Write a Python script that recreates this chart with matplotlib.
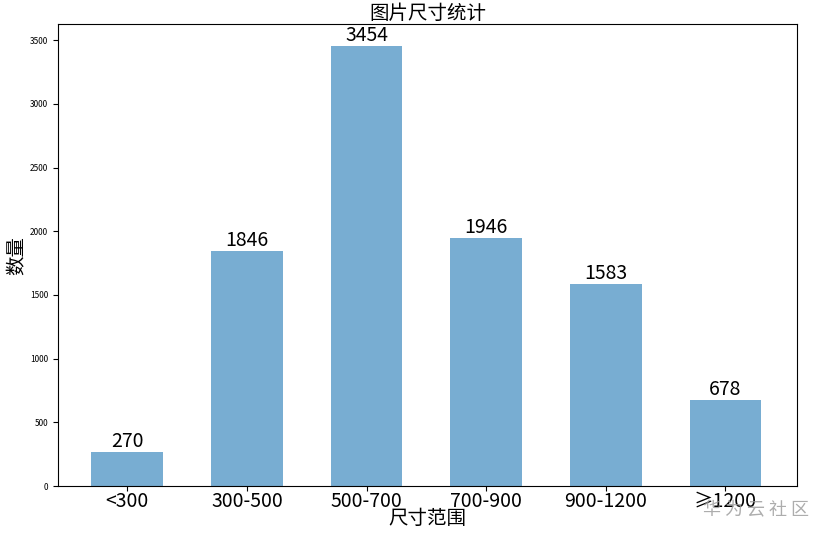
import matplotlib
matplotlib.use("Agg")
import matplotlib.pyplot as plt
import numpy as np

plt.rcParams['font.family'] = ['Noto Sans CJK SC', 'DejaVu Sans']
plt.rcParams['axes.unicode_minus'] = False

# 数据
labels = ['<300', '300-500', '500-700', '700-900', '900-1200', '≥1200']
counts = [270, 1846, 3454, 1946, 1583, 678]

fig = plt.figure(figsize=(8.21, 5.33), dpi=100)
ax = fig.add_axes([0.0706, 0.088, 0.9004, 0.867])

x = np.arange(len(labels))
bars = ax.bar(x, counts, width=0.6, color='#1f77b4', alpha=0.6)
for b, c in zip(bars, counts):
	ax.text(b.get_x() + b.get_width() / 2, c, str(c), ha='center', va='bottom',
		fontsize=14, fontweight='medium', linespacing=1)

ax.set_xticks(x)
ax.set_xticklabels(labels, fontsize=14, fontweight='medium')
ax.tick_params(axis='x', pad=0)
ax.tick_params(axis='y', labelsize=6)
ax.set_xlim(-0.58, 5.6)
ax.set_title('图片尺寸统计', fontsize=14, pad=1, fontweight='medium')
ax.set_xlabel('尺寸范围', fontsize=14, labelpad=-3, fontweight='medium')
ax.set_ylabel('数量', fontsize=14, labelpad=2, fontweight='medium')

# 水印
fig.text(0.985, 0.025, '华 为 云 社 区', ha='right', va='bottom', fontsize=13, color='#999999', alpha=0.8)

plt.savefig("out.png", dpi=100)
